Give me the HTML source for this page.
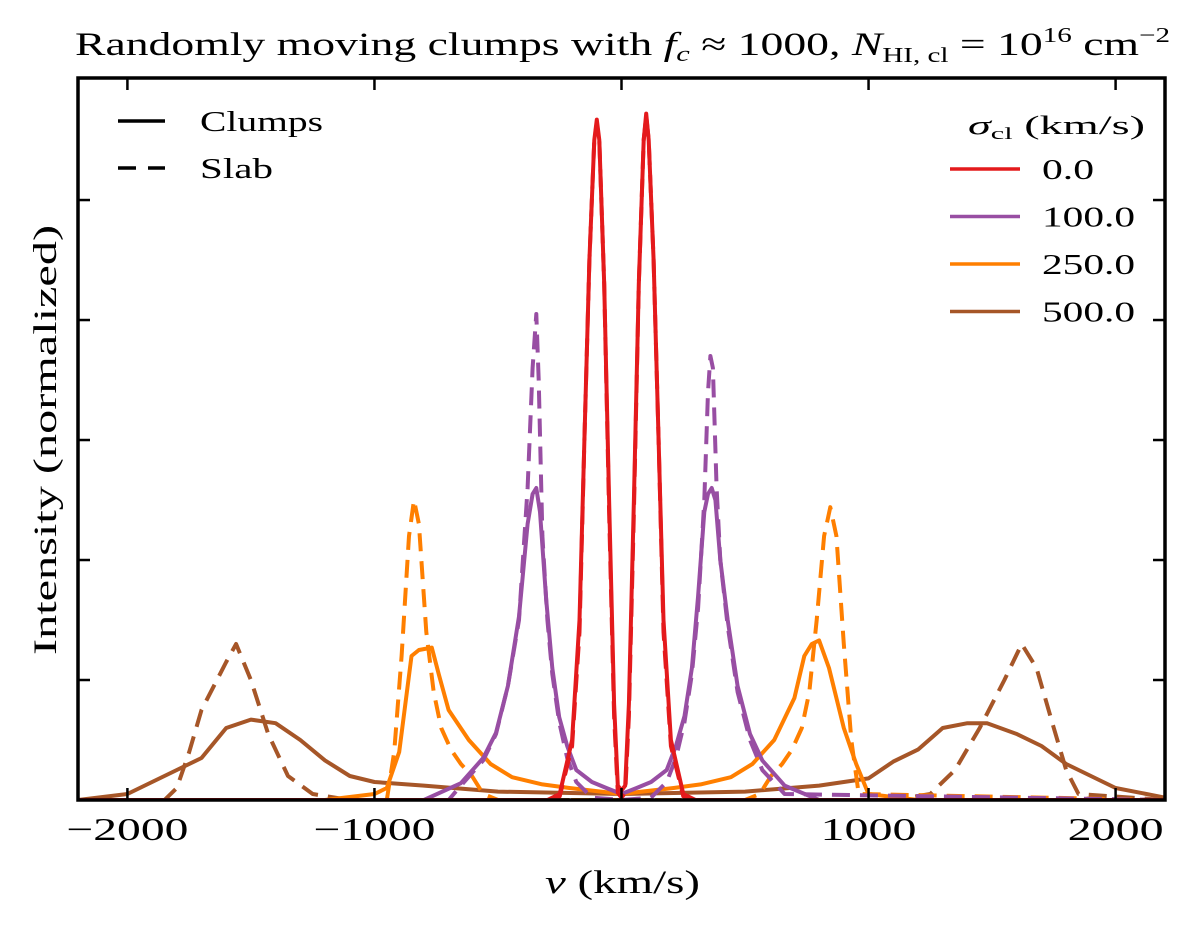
<!DOCTYPE html>
<html><head><meta charset="utf-8"><style>
html,body{margin:0;padding:0;background:#fff;}
svg{display:block;font-family:"Liberation Serif","DejaVu Serif",serif;}
</style></head><body>
<svg id="chart" width="1200" height="930" xmlns="http://www.w3.org/2000/svg">
<text x="75" y="55" font-size="33" textLength="1095" lengthAdjust="spacingAndGlyphs">Randomly moving clumps with <tspan font-style="italic">f</tspan><tspan font-style="italic" font-size="22" dy="6">c</tspan><tspan dy="-6"> ≈ 1000, </tspan><tspan font-style="italic">N</tspan><tspan font-size="21" dy="7">HI, cl</tspan><tspan dy="-7"> = 10</tspan><tspan font-size="21" dy="-13">16</tspan><tspan dy="13"> cm</tspan><tspan font-size="21" dy="-13">−2</tspan></text>
<g id="plot"></g>
<text x="545" y="893" font-size="33" textLength="155" lengthAdjust="spacingAndGlyphs"><tspan font-style="italic">v</tspan> (km/s)</text>
<text transform="translate(56,440) rotate(-90)" font-size="33" text-anchor="middle" textLength="430" lengthAdjust="spacingAndGlyphs">Intensity (normalized)</text>
<g>
<line x1="118" y1="121" x2="165" y2="121" stroke="#000" stroke-width="3.5"/>
<text x="200" y="131" font-size="29" textLength="123" lengthAdjust="spacingAndGlyphs">Clumps</text>
<line x1="118" y1="168" x2="165" y2="168" stroke="#000" stroke-width="3.5" stroke-dasharray="18,12"/>
<text x="200" y="178" font-size="29" textLength="73" lengthAdjust="spacingAndGlyphs">Slab</text>
</g>
<g id="legend2">
<text x="968" y="134" font-size="26" textLength="177" lengthAdjust="spacingAndGlyphs"><tspan font-style="italic">σ</tspan><tspan font-size="17" dy="5">cl</tspan><tspan dy="-5"> (km/s)</tspan></text>
</g>
</svg>
<script>
const xTicks=[-2000,-1000,0,1000,2000];
const xTickLabels=["−2000","−1000","0","1000","2000"];
const yTicks=[0,1,2,3,4,5];
const sigmaLabels=["0.0","100.0","250.0","500.0"];
const colors=["#e41a1c","#984ea3","#ff7f00","#a65628"];
const vRed=[-2200,-300,-250,-200,-170,-150,-130,-110,-100,-90,-70,-50,-30,-15,0,15,30,50,70,90,100,110,130,150,170,200,250,300,2200];
const iRedClump=[0,0,0.05,0.5,1.5,3.0,4.5,5.5,5.67,5.5,4.3,2.5,0.8,0.12,0.08,0.12,0.8,2.5,4.3,5.5,5.72,5.5,4.5,3.0,1.5,0.5,0.05,0,0];
const iRedSlab=[0,0,0.03,0.45,1.4,3.0,4.5,5.5,5.64,5.5,4.3,2.4,0.7,0.06,0.02,0.06,0.7,2.4,4.3,5.5,5.7,5.5,4.5,3.0,1.4,0.45,0.03,0,0];
const vPurC=[-2200,-800,-650,-560,-508,-460,-415,-380,-360,-345,-330,-305,-280,-252,-220,-183,-120,-61,0,61,120,183,220,255,285,310,335,350,365,380,400,430,470,520,570,660,800,2200];
const iPurClump=[0,0,0.14,0.35,0.56,0.95,1.53,2.3,2.55,2.6,2.4,1.67,1.1,0.69,0.45,0.25,0.15,0.1,0.05,0.1,0.15,0.25,0.45,0.7,1.1,1.7,2.4,2.55,2.6,2.5,2.0,1.5,0.95,0.55,0.33,0.12,0,0];
const vPurS=[-2200,-700,-650,-560,-508,-460,-415,-380,-360,-345,-335,-320,-300,-280,-252,-220,-183,-120,0,120,183,220,255,285,310,335,350,360,370,385,400,430,470,520,570,660,2200];
const iPurSlab=[0,0,0.12,0.33,0.55,0.95,1.5,2.6,3.6,4.05,3.5,2.2,1.5,1.05,0.65,0.35,0.15,0.02,0,0.02,0.15,0.35,0.65,1.05,1.6,2.5,3.4,3.7,3.6,2.6,2.0,1.45,0.9,0.5,0.25,0.05,0];
const vOrC=[-2200,-1200,-1000,-950,-900,-850,-820,-768,-740,-700,-618,-530,-443,-320,-211,0,211,320,443,530,618,700,740,770,800,840,900,950,1000,1200,2200];
const iOrClump=[0,0,0.05,0.1,0.4,1.2,1.25,1.27,1.05,0.75,0.5,0.3,0.19,0.13,0.1,0.05,0.1,0.13,0.19,0.3,0.5,0.85,1.2,1.3,1.33,1.1,0.6,0.3,0.05,0,0];
const vOrS=[-2200,-950,-920,-890,-860,-840,-820,-790,-760,-730,-690,-650,-605,-560,-500,0,500,560,605,650,690,730,760,790,820,845,870,900,930,960,2200];
const iOrSlab=[0,0,0.4,1.2,2.2,2.5,2.3,1.4,0.9,0.6,0.42,0.3,0.2,0.05,0,0,0,0.05,0.2,0.3,0.42,0.6,0.9,1.5,2.2,2.44,2.2,1.3,0.5,0.05,0];
const vBrC=[-2200,-2000,-1800,-1700,-1600,-1500,-1400,-1300,-1200,-1100,-1000,-800,-500,0,500,800,1000,1100,1200,1300,1400,1480,1600,1700,1800,2000,2200];
const iBrClump=[0,0.05,0.25,0.35,0.6,0.67,0.64,0.5,0.33,0.2,0.15,0.12,0.07,0.05,0.07,0.12,0.18,0.32,0.42,0.6,0.64,0.64,0.55,0.45,0.3,0.1,0.02];
const vBrS=[-2200,-1850,-1800,-1750,-1700,-1600,-1560,-1500,-1430,-1350,-1250,-1100,0,1100,1250,1350,1450,1550,1620,1680,1750,1800,1850,2200];
const iBrSlab=[0,0,0.1,0.4,0.75,1.15,1.3,1.0,0.55,0.2,0.05,0,0,0,0.05,0.25,0.6,1.0,1.3,1.1,0.6,0.25,0.05,0];

const L=78,R=1165,T=78,B=800;
const xMin=-2200,xMax=2200,yMin=0,yMax=6.017;
const sx=v=>L+(v-xMin)/(xMax-xMin)*(R-L);
const sy=v=>B-(v-yMin)/(yMax-yMin)*(B-T);
const NS="http://www.w3.org/2000/svg";
const plot=document.getElementById('plot');
function mk(tag,attrs,parent){const e=document.createElementNS(NS,tag);for(const k in attrs)e.setAttribute(k,attrs[k]);(parent||plot).appendChild(e);return e;}
const clip=mk('clipPath',{id:'clp'});mk('rect',{x:L,y:T,width:R-L,height:B-T},clip);
const series=[
 [vBrS,iBrSlab,3,true,'brown-slab'],[vBrC,iBrClump,3,false,'brown-clumps'],
 [vOrS,iOrSlab,2,true,'orange-slab'],[vOrC,iOrClump,2,false,'orange-clumps'],
 [vPurS,iPurSlab,1,true,'purple-slab'],[vPurC,iPurClump,1,false,'purple-clumps'],
 [vRed,iRedSlab,0,true,'red-slab'],[vRed,iRedClump,0,false,'red-clumps']];
series.forEach(s=>{
 const d=s[0].map((v,i)=>(i?'L':'M')+sx(v).toFixed(1)+','+sy(s[1][i]).toFixed(1)).join('');
 const p=mk('path',{d:d,fill:'none',stroke:colors[s[2]],'stroke-width':4,'stroke-linejoin':'round','clip-path':'url(#clp)'});
 if(s[3])p.setAttribute('stroke-dasharray','18,10');
 
 
});
const frame=mk('rect',{x:L,y:T,width:R-L,height:B-T,fill:'none',stroke:'#000','stroke-width':3.5});


xTicks.forEach((t,i)=>{
 const x=sx(t);
 const a=mk('line',{x1:x,y1:B,x2:x,y2:B-12,stroke:'#000','stroke-width':2.5});
 
 
 const b=mk('line',{x1:x,y1:T,x2:x,y2:T+12,stroke:'#000','stroke-width':2.5});
 
 
 const lab=xTickLabels[i];
 const w=lab.length===1?18:(lab.length===4?96:122);
 const tx=mk('text',{x:x-w/2,y:B+40,'font-size':32,textLength:w,lengthAdjust:'spacingAndGlyphs'});
 tx.textContent=lab;
 
 
});
yTicks.forEach(t=>{
 const y=sy(t);
 const a=mk('line',{x1:L,y1:y,x2:L+12,y2:y,stroke:'#000','stroke-width':2.5});
 
 
 const b=mk('line',{x1:R,y1:y,x2:R-12,y2:y,stroke:'#000','stroke-width':2.5});
 
 
});
const lg=document.getElementById('legend2');
sigmaLabels.forEach((s,i)=>{
 const y=169+i*47.5;
 const l=mk('line',{x1:950,y1:y,x2:1020,y2:y,stroke:colors[i],'stroke-width':3.5},lg);
 
 
 const t=mk('text',{x:1042,y:y+10,'font-size':29,textLength:s.length===3?52:93,lengthAdjust:'spacingAndGlyphs'},lg);
 t.textContent=s;
 
 
});
</script>
</body></html>
